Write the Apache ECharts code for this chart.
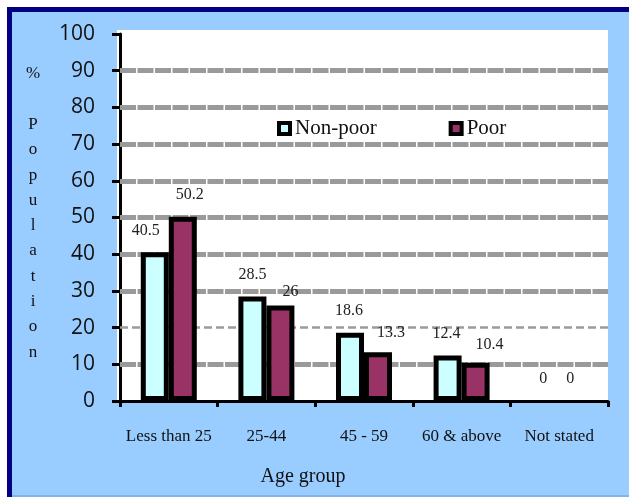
<!DOCTYPE html>
<html>
<head>
<meta charset="utf-8">
<style>
  html, body { margin: 0; padding: 0; background: #fff; }
  #chart { width: 629px; height: 497px; }
</style>
<script src="https://cdn.jsdelivr.net/npm/echarts@6/dist/echarts.min.js"></script>
</head>
<body>
<div id="chart"></div>
<script>
// Share of population by age group, non-poor vs poor households
const categories = ['Less than 25', '25-44', '45 - 59', '60 & above', 'Not stated'];
const nonPoor = [40.5, 28.5, 18.6, 12.4, 0];
const poor = [50.2, 26, 13.3, 10.4, 0];
const yTicks = [0, 10, 20, 30, 40, 50, 60, 70, 80, 90, 100];
const seriesNames = ['Non-poor', 'Poor'];

// Small per-bar nudges so value labels sit where they were typeset
const nonPoorLabelShift = [[-9, 0], [0, 0], [-1, 0], [-1, 0], [-2, 0]];
const poorLabelShift = [[7, 0], [10, 8], [13, 3], [14, 4], [-3, 0]];

const serif = 'Liberation Serif';
const sans = 'Open Sans';

function barData(values, shifts) {
  return values.map((v, i) => {
    const item = { value: v, label: { offset: shifts[i] } };
    if (v === 0) item.itemStyle = { borderWidth: 0 };
    return item;
  });
}

// Horizontal guide lines between the first and last tick
const guideLines = yTicks.slice(1, -1).map(v => (
  v === 20
    ? { yAxis: v, lineStyle: { color: '#9a9a9a', width: 2.5, type: [8, 4] } }
    : { yAxis: v, lineStyle: { color: '#9a9a9a', width: 5, type: [16, 1.5] } }
));

const chart = echarts.init(document.getElementById('chart'), null, { renderer: 'canvas' });

chart.setOption({
  backgroundColor: '#ffffff',
  animation: false,
  textStyle: { fontFamily: serif },
  graphic: [
    { type: 'rect', z: -10, shape: { x: 7, y: 7, width: 622, height: 490 }, style: { fill: '#99ccff' } },
    { type: 'rect', z: -9, shape: { x: 7, y: 495, width: 622, height: 2 }, style: { fill: '#86b2ec' } },
    { type: 'rect', z: -8, shape: { x: 7, y: 7, width: 622, height: 5 }, style: { fill: '#000080' } },
    { type: 'rect', z: -8, shape: { x: 7, y: 7, width: 5, height: 490 }, style: { fill: '#000080' } },
    { type: 'rect', z: -7, shape: { x: 117, y: 30, width: 491, height: 371 }, style: { fill: '#ffffff' } },
    {
      type: 'text', z: 5, x: 33, y: 213,
      style: {
        text: '%\n\nP\no\np\nu\nl\na\nt\ni\no\nn',
        font: '17px "Liberation Serif"', fill: '#111',
        align: 'center', verticalAlign: 'middle', lineHeight: 25.3
      }
    },
    {
      type: 'text', z: 5, x: 303, y: 477,
      style: {
        text: 'Age group', font: '20px "Liberation Serif"', fill: '#111',
        align: 'center', verticalAlign: 'middle'
      }
    }
  ],
  legend: {
    data: seriesNames,
    left: 272, top: 113,
    itemWidth: 11, itemHeight: 11, itemGap: 72,
    icon: 'rect',
    itemStyle: { borderColor: '#000', borderWidth: 4 },
    textStyle: { fontFamily: serif, fontSize: 21, color: '#111' }
  },
  grid: { left: 120, right: 21, top: 34, bottom: 96, containLabel: false },
  xAxis: {
    type: 'category',
    data: categories,
    axisLine: { lineStyle: { color: '#000', width: 3 } },
    axisTick: { show: true, length: 6, lineStyle: { color: '#000', width: 3 } },
    axisLabel: { interval: 0, margin: 27, fontFamily: serif, fontSize: 17, color: '#111' },
    splitLine: { show: false }
  },
  yAxis: {
    type: 'value',
    min: yTicks[0], max: yTicks[yTicks.length - 1], interval: 10,
    axisLine: { show: true, lineStyle: { color: '#000', width: 3 } },
    axisTick: { show: true, length: 8, lineStyle: { color: '#000', width: 3 } },
    axisLabel: { margin: 25, fontFamily: sans, fontSize: 21, color: '#111' },
    splitLine: { show: false }
  },
  series: [
    {
      name: 'guides', type: 'line', data: [], z: 1, silent: true,
      markLine: { z: 1, silent: true, symbol: 'none', label: { show: false }, data: guideLines }
    },
    {
      name: seriesNames[0], type: 'bar', z: 10,
      data: barData(nonPoor, nonPoorLabelShift),
      barWidth: 28, barGap: '0%',
      itemStyle: { color: '#ccffff', borderColor: '#000', borderWidth: 5 },
      label: { show: true, position: 'top', distance: 14, fontFamily: serif, fontSize: 16, color: '#222' }
    },
    {
      name: seriesNames[1], type: 'bar', z: 10,
      data: barData(poor, poorLabelShift),
      barWidth: 28, barGap: '0%',
      itemStyle: { color: '#993366', borderColor: '#000', borderWidth: 5 },
      label: { show: true, position: 'top', distance: 14, fontFamily: serif, fontSize: 16, color: '#222' }
    }
  ]
});
</script>
</body>
</html>
